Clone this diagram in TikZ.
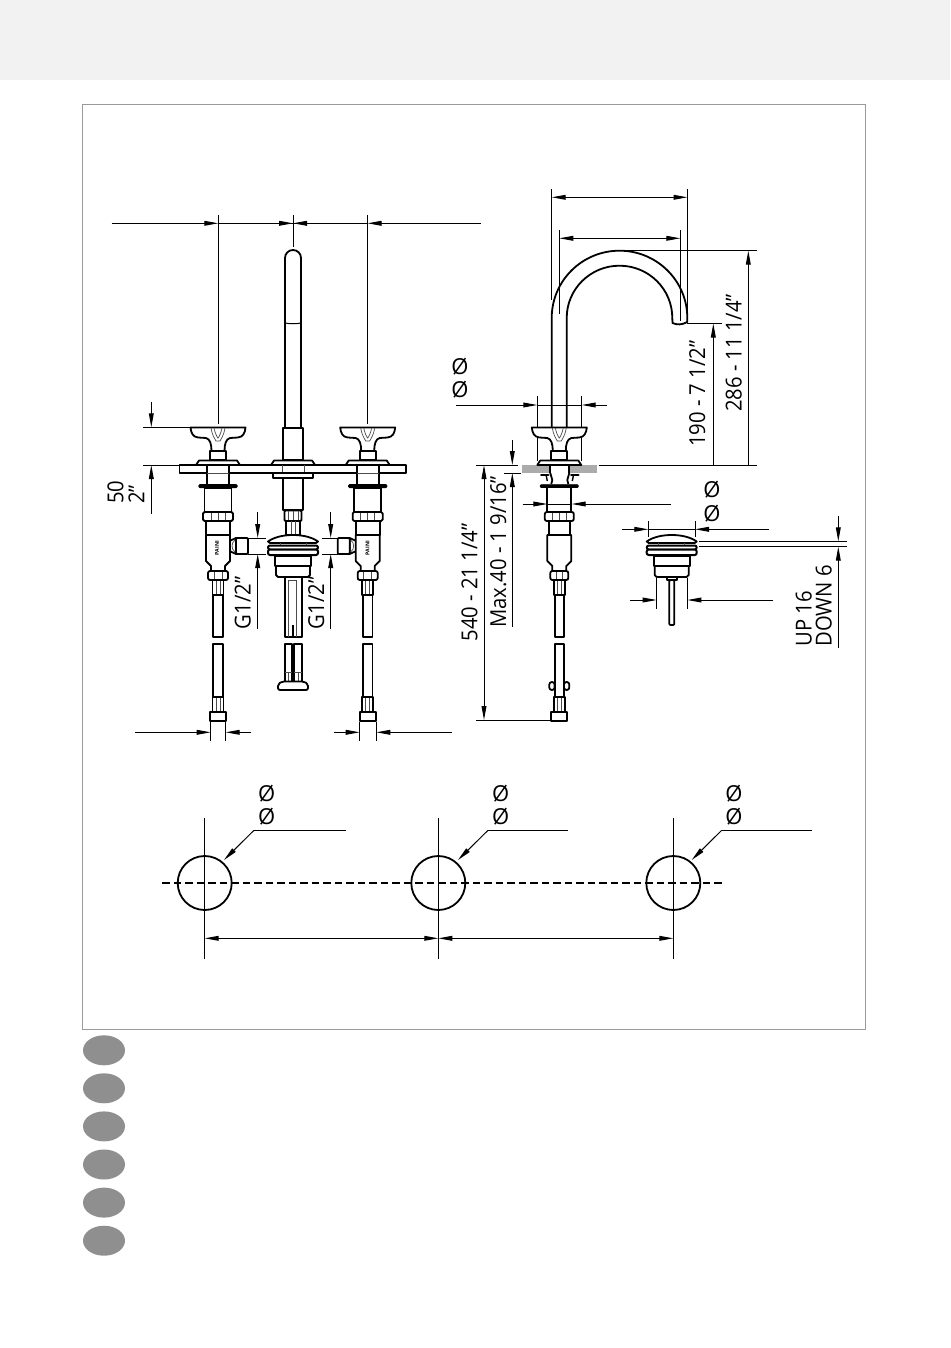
\documentclass[tikz,border=0pt]{standalone}
\usepackage{fontspec}
\setmainfont{Open Sans}
\usetikzlibrary{arrows.meta}
\definecolor{bandgray}{HTML}{F2F2F2}
\definecolor{framegray}{HTML}{9A9A9A}
\definecolor{dotgray}{HTML}{8F8F8F}
\definecolor{deckgray}{HTML}{ABABAB}
\tikzset{
  x=1pt,y=-1pt,
  ol/.style={draw=black,line width=1.8pt,fill=white,line join=round},
  olbare/.style={draw=black,line width=1.8pt,line join=round},
  fine/.style={draw=black!70,line width=.7pt},
  dimline/.style={draw=black,line width=1pt},
  tipend/.style={dimline,-{Stealth[length=14pt,width=4.8pt,inset=0pt]}},
  hole/.style={draw=black,line width=1.8pt},
  pad/.style={fill=dotgray,draw=none},
  lab/.style={font=\fontsize{22}{22}\selectfont,inner sep=0pt,rotate=90,anchor=base west},
  phi/.style={font=\fontsize{22}{22}\selectfont,inner sep=0pt,anchor=center},
  logo/.style={font=\bfseries\fontsize{5.2}{6}\selectfont,inner sep=0pt,rotate=90},
}
\newcommand\squeezed[1]{\scalebox{.92}[1]{#1}}
% cross handle, stem, escutcheon (drawn about x=0)
\newcommand\handlepart{%
  \draw[ol] (-27.5,427.5)--(27.5,427.5) .. controls (27,433) and (25,437) .. (20,437.5) -- (12,438) .. controls (8,439) and (6.5,444) .. (6.5,451) -- (-6.5,451) .. controls (-6.5,444) and (-8,439) .. (-12,438) -- (-20,437.5) .. controls (-25,437) and (-27,433) .. (-27.5,427.5) -- cycle;
  \draw[fine] (-7,428) .. controls (-6,435) and (-3,439) .. (-2,441) -- (2,441) .. controls (3,439) and (6,435) .. (7,428);
  \draw[fine] (-4,428) .. controls (-3,433) and (-1,437) .. (0,438) .. controls (1,437) and (3,433) .. (4,428);
  \draw[ol] (-8,451) rectangle (8,460);
  \draw[ol] (-19,460.5)--(19,460.5)--(22,465)--(-22,465)--cycle;
}
% valve below the deck, with its side outlet
\newcommand\valvepart[1]{%
  \begin{scope}[shift={(#1,0)}]
  \handlepart
  \fill[white] (-11,465.9) rectangle (11,473.5);
  \draw[olbare] (-11,465)--(-11,485) (11,465)--(11,485);
  \draw[fine] (-11,473)--(11,473);
  \draw[ol,rounded corners=1pt,line width=1.2pt,fill=black] (-19,484.7) rectangle (19,487.5);
  \draw[ol] (-13.5,488) rectangle (13.5,512);
  \draw[ol,rounded corners=1.5pt] (-15,512) rectangle (15,521);
  \draw[fine] (-7,513)--(-7,520) (0,513)--(0,520) (7,513)--(7,520);
  \draw[ol] (-12,521) rectangle (12,535);
  \draw[ol] (11.5,541)--(18,538)--(18,554)--(11.5,551);
  \draw[ol,rounded corners=1pt] (18,538) rectangle (30,554);
  \draw[fine] (17,540) .. controls (13,543) and (13,549) .. (17,552);
  \draw[ol] (-12,535)--(12,535)--(12,561)--(7,566)--(7,571)--(-7,571)--(-7,566)--(-12,561)--cycle;
  \draw[ol,rounded corners=2pt] (-10,571) rectangle (10,580);
  \draw[fine] (-4,572)--(-4,579) (4,572)--(4,579);
  \draw[ol] (-5.5,580) rectangle (5.5,595);
  \draw[fine] (-2,581)--(-2,594) (2,581)--(2,594);
  \draw[ol] (-4.7,595) rectangle (4.7,637);
  \draw[ol] (-4.7,644) rectangle (4.7,697);
  \draw[ol] (-5.5,697) rectangle (5.5,712);
  \draw[fine] (-2,698)--(-2,711) (2,698)--(2,711);
  \draw[ol] (-8,712) rectangle (8,721);
  \end{scope}}
% pop-up waste head
\newcommand\wastehead[1]{%
  \begin{scope}[shift={(#1,0)}]
  \draw[ol] (-25,541.5) .. controls (-18,536.5) and (-8,535) .. (0,535) .. controls (8,535) and (18,536.5) .. (25,541.5) -- (23,543) -- (-23,543) -- cycle;
  \draw[ol,rounded corners=2pt,line width=2pt] (-25,545.5) rectangle (25,549.5);
  \draw[ol,rounded corners=2pt,line width=2pt] (-25,549.5) rectangle (25,555);
  \draw[fine] (-13,543)--(-13,545) (13,543)--(13,545);
  \draw[ol] (-18,556) rectangle (18,566);
  \draw[ol] (-17,566)--(17,566)--(17,575)--(15,577)--(-15,577)--(-17,575)--cycle;
  \end{scope}}
\begin{document}
\begin{tikzpicture}
\useasboundingbox (0,0) rectangle (950,1348);
\fill[white] (0,0) rectangle (950,1348);
\fill[bandgray] (0,0) rectangle (950,80);
\draw[framegray,line width=1pt] (82.5,104.5) rectangle (865.5,1029.5);

%--- legend dots
\foreach \cy in {1050.3,1088.3,1126.4,1164.5,1202.6,1240.7}
  \fill[pad] (104,\cy) ellipse [x radius=21, y radius=15];

%--- front view: spout
\draw[ol] (285,428)--(285,258) .. controls (285,253.6) and (288.6,250) .. (293,250) .. controls (297.4,250) and (301,253.6) .. (301,258) -- (301,428);
\draw[line width=1pt] (285,323) .. controls (290,324) and (296,324) .. (301,323);
\draw[ol] (282.8,428) rectangle (302.8,460);

%--- deck plate
\draw[ol] (179.5,465) rectangle (406,473);

%--- valves
\valvepart{218}
\begin{scope}[shift={(367.7,0)},xscale=-1]
  \valvepart{0}
\end{scope}
\node[logo] (logoL) at (217,548) {PAINI};
\node[logo] (logoR) at (367.5,548) {PAINI};

%--- centre column and waste
\begin{scope}[shift={(293,0)}]
  \draw[ol] (-19,460.5)--(19,460.5)--(22,465)--(-22,465)--cycle;
  \fill[white] (-13,465.9) rectangle (13,472);
  \draw[fine] (-11,465)--(-11,473) (11,465)--(11,473);
  \draw[ol,line width=1.4pt] (-20,473) rectangle (20,478);
  \draw[ol] (-10,478) rectangle (10,510);
  \draw[ol] (-7,510)--(7,510)--(7,535)--(-7,535)--cycle;
  \draw[ol,rounded corners=1pt] (-8.5,510.5) rectangle (8.5,521);
  \draw[fine] (-5,511)--(-5,520) (0,511)--(0,520) (5,511)--(5,520);
  \draw[fine] (-2,521)--(-2,540) (2,521)--(2,540);
  %  tube below the waste
  \draw[ol] (-8,577) rectangle (8.7,637);
  \draw[fine] (-4.7,580)--(-4.7,637) (3.7,580)--(3.7,637);
  \draw[fine] (-4.7,580)--(3.7,580);
  \draw[line width=1.8pt] (0,625)--(0,637);
  \draw[ol] (-8,644) rectangle (-1,682);
  \draw[ol] (1,644) rectangle (8.7,682);
  \draw[fine] (-5,672)--(-5,681) (5,672)--(5,681);
  \draw[fine] (-8,672)--(-1,672) (1,672)--(8.7,672);
  \draw[ol,rounded corners=2pt] (-11,681.5)--(-15,684)--(-15,690)--(15,690)--(15,684)--(11,681.5)--cycle;
\end{scope}
\wastehead{293}

%--- side view
\draw[ol] (566.7,427) -- (566.7,318) .. controls (566.7,289.1) and (590.3,265.7) .. (619.5,265.7) .. controls (648.7,265.7) and (672.3,289.1) .. (672.3,318) -- (672.5,323) .. controls (677,325) and (682,325) .. (687.3,322) -- (687.3,318) .. controls (687.3,280.8) and (656.9,250.7) .. (619.5,250.7) .. controls (582.1,250.7) and (551.7,280.8) .. (551.7,318) -- (551.7,427);
\fill[deckgray] (521.7,465) rectangle (550,473);
\fill[deckgray] (570,465) rectangle (597.3,473);
\begin{scope}[shift={(559.3,0)}]
  \draw[dimline] (-22,396)--(-22,461) (22,396)--(22,461);
  \handlepart
  \draw[olbare] (-9,465)--(-9,473) (10,465)--(10,473);
  \draw[olbare] (-9,473)--(-7,480)--(-8,484) (10,473)--(8,480)--(9,484);
  \draw[line width=2.8pt,line cap=round] (-18,475)--(-11,475) (12,475)--(19,475);
  \draw[line width=1.4pt] (-13,476)--(-12,481) (14,476)--(13,481);
  \draw[fill=black,rounded corners=1pt,line width=.8pt] (-19,484.7) rectangle (19,487.5);
  \draw[olbare] (-12,488)--(-12,513) (12,488)--(12,513);
  \draw[ol,rounded corners=2pt] (-14.5,512) rectangle (14.5,521);
  \draw[fine] (-7,513)--(-7,520) (0,513)--(0,520) (7,513)--(7,520);
  \draw[ol] (-10,521) rectangle (11,535);
  \draw[ol] (-12,535)--(12,535)--(12,561)--(7,566)--(7,571)--(-7,571)--(-7,566)--(-12,561)--cycle;
  \draw[ol,rounded corners=2pt] (-9,571) rectangle (9,580);
  \draw[fine] (-3,572)--(-3,579) (3,572)--(3,579);
  \draw[ol] (-5.5,580) rectangle (5.5,595);
  \draw[fine] (-2,581)--(-2,594) (2,581)--(2,594);
  \draw[ol] (-4.7,595) rectangle (4.7,637);
  \draw[ol] (-4.7,644) rectangle (4.7,697);
  \draw[ol,rounded corners=2.5pt] (-10,682)--(-4.7,682)--(-4.7,690)--(-10,690)--cycle;
  \draw[ol,rounded corners=2.5pt] (10,682)--(4.7,682)--(4.7,690)--(10,690)--cycle;
  \draw[ol] (-5.5,697) rectangle (5.5,712);
  \draw[fine] (-2,698)--(-2,711) (2,698)--(2,711);
  \draw[ol] (-8,712) rectangle (8,721);
\end{scope}

%--- side view of waste
\wastehead{671.7}
\draw[ol] (667,577) rectangle (677,580);
\draw[ol,rounded corners=1pt] (669.3,580) rectangle (674.3,625);

%--- dimensions: front view top
\draw[dimline] (218.3,215)--(218.3,424) (293,215)--(293,247) (367.5,215)--(367.5,424);
\draw[tipend] (111.5,223.3)--(218.3,223.3);
\draw[dimline] (218.3,223.3)--(367.5,223.3);
\draw[tipend] (270,223.3)--(293,223.3);
\draw[tipend] (316,223.3)--(293,223.3);
\draw[tipend] (481,223.3)--(367.5,223.3);

%--- 50 / 2"
\draw[dimline] (143,427.3)--(190,427.3) (143,465)--(179,465);
\draw[tipend] (151.3,402)--(151.3,427.3);
\draw[tipend] (151.3,514)--(151.3,465);
\node[lab] (tfifty) at (123.3,504) {\squeezed{50}};
\node[lab] (ttwo) at (144.3,504) {\squeezed{2"}};

%--- G1/2 left and right
\draw[dimline] (248,538)--(266,538) (248,554)--(266,554);
\draw[tipend] (257.7,512)--(257.7,538);
\draw[tipend] (257.7,629)--(257.7,554);
\node[lab] (tgl) at (250.7,629.3) {\squeezed{G1/2"}};
\draw[dimline] (322,538)--(338,538) (322,554)--(338,554);
\draw[tipend] (330.7,512)--(330.7,538);
\draw[tipend] (330.7,629)--(330.7,554);
\node[lab] (tgr) at (324,629.3) {\squeezed{G1/2"}};

%--- bottom widths
\draw[dimline] (210.7,722)--(210.7,741) (225.7,722)--(225.7,741);
\draw[tipend] (135,732.3)--(210.7,732.3);
\draw[tipend] (251,732.3)--(225.7,732.3);
\draw[dimline] (359.7,722)--(359.7,741) (376.3,722)--(376.3,741);
\draw[tipend] (334,732.3)--(359.7,732.3);
\draw[tipend] (452,732.3)--(376.3,732.3);

%--- side view dimensions
\draw[dimline] (551.7,189)--(551.7,300) (687.5,189)--(687.5,318);
\draw[tipend] (619,197.3)--(551.7,197.3);
\draw[tipend] (619,197.3)--(687.5,197.3);
\draw[dimline] (559.3,230)--(559.3,314) (680.3,230)--(680.3,321);
\draw[tipend] (619,238.3)--(559.3,238.3);
\draw[tipend] (619,238.3)--(680.3,238.3);
\draw[dimline] (619,250.7)--(757,250.7) (599,465)--(757,465);
\draw[tipend] (748.3,465)--(748.3,250.7);
\draw[dimline] (687,323.5)--(722,323.5);
\draw[tipend] (713.3,465)--(713.3,323.5);
\node[lab] (t286) at (741.7,412) {\squeezed{286 - 11 1/4"}};
\node[lab] (t190) at (705,447) {\squeezed{190 - 7 1/2"}};

\node[phi] (p1) at (460,367) {Ø};
\node[phi] (p2) at (460,390) {Ø};
\draw[dimline] (537.3,405)--(581.7,405);
\draw[tipend] (455.7,405)--(537.3,405);
\draw[tipend] (606.7,405)--(581.7,405);

\draw[dimline] (476,465)--(518,465) (504,473)--(521,473);
\draw[tipend] (512.3,440)--(512.3,465);
\draw[tipend] (512.3,627)--(512.3,473);
\draw[tipend] (484,600)--(484,465);
\draw[tipend] (484,600)--(484,720);
\draw[dimline] (476,720)--(551,720);
\node[lab] (t540) at (477.3,641.7) {\squeezed{540 - 21 1/4"}};
\node[lab] (tmax) at (506,628) {\squeezed{Max.40 - 1 9/16"}};

\draw[dimline] (547.3,504)--(571.7,504);
\draw[tipend] (522.7,504)--(547.3,504);
\draw[tipend] (671,504)--(571.7,504);
\node[phi] (p3) at (712,490) {Ø};
\node[phi] (p4) at (712,514) {Ø};

%--- waste dimensions
\draw[dimline] (648.3,521)--(648.3,537) (695,521)--(695,537);
\draw[dimline] (648.3,529.3)--(695,529.3);
\draw[tipend] (622.3,529.3)--(648.3,529.3);
\draw[tipend] (769.3,529.3)--(695,529.3);
\draw[dimline] (656.7,578)--(656.7,609) (687.3,578)--(687.3,609);
\draw[tipend] (630.3,600)--(656.7,600);
\draw[tipend] (773,600)--(687.3,600);
\draw[dimline] (699,541.3)--(847,541.3) (699,546.7)--(847,546.7);
\draw[tipend] (838.3,516)--(838.3,541.3);
\draw[tipend] (838.3,648)--(838.3,546.7);
\node[lab] (tup) at (811.7,646.7) {\squeezed{UP 16}};
\node[lab] (tdown) at (831.7,646.7) {\squeezed{DOWN 6}};

%--- plan: holes
\draw[black,line width=1.7pt,dash pattern=on 7.5pt off 4pt] (162,883)--(722,883);
\foreach \hx/\hn in {204.7/a,438.3/b,673.3/c}{
  \draw[hole] (\hx,883) circle [radius=27];
  \draw[dimline] (\hx,817.7)--(\hx,959);
}
\draw[dimline] (254,830.3)--(345.7,830.3);
\draw[tipend] (254,830.3)--(224,860);
\draw[dimline] (488,830.3)--(567.7,830.3);
\draw[tipend] (488,830.3)--(458,860);
\draw[dimline] (721.7,830.3)--(812,830.3);
\draw[tipend] (721.7,830.3)--(691.7,860);
\node[phi] (p5) at (266.7,794) {Ø};
\node[phi] (p6) at (266.7,816.7) {Ø};
\node[phi] (p7) at (500.7,794) {Ø};
\node[phi] (p8) at (500.7,816.7) {Ø};
\node[phi] (p9) at (734,794) {Ø};
\node[phi] (p10) at (734,816.7) {Ø};
\draw[tipend] (321,938.3)--(204.7,938.3);
\draw[tipend] (321,938.3)--(438.3,938.3);
\draw[tipend] (555,938.3)--(438.3,938.3);
\draw[tipend] (555,938.3)--(673.3,938.3);
\end{tikzpicture}
\end{document}
